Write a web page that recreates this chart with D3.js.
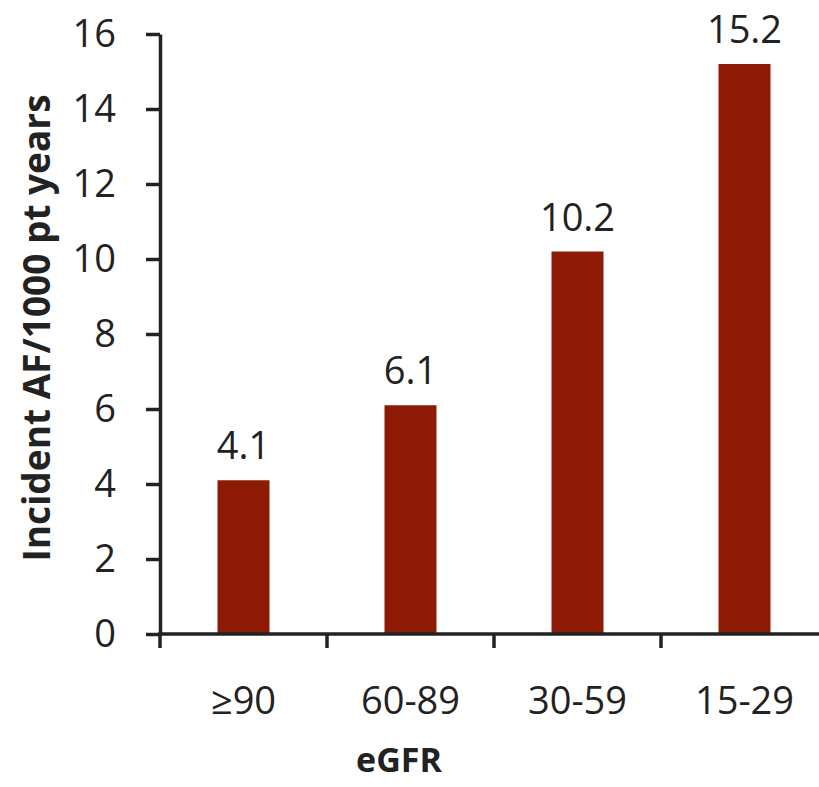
<!DOCTYPE html>
<html>
<head>
<meta charset="utf-8">
<script src="https://cdn.jsdelivr.net/npm/d3@7"></script>
<style>
  body { margin: 0; background: #fff; }
  text { font-family: "Open Sans", "Noto Sans", sans-serif; fill: #222; }
</style>
</head>
<body>
<div id="chart"></div>
<script>
// categories and values
const groups = ["≥90", "60-89", "30-59", "15-29"];
const rates = [4.1, 6.1, 10.2, 15.2];
const yTicks = [0, 2, 4, 6, 8, 10, 12, 14, 16];

const width = 819, height = 787;

const svg = d3.select("#chart")
  .append("svg")
  .attr("width", width)
  .attr("height", height);

const x = d3.scaleBand()
  .domain(groups)
  .range([160, 828])
  .paddingInner(0)
  .paddingOuter(0);

const y = d3.scaleLinear()
  .domain([0, 16])
  .range([634, 34]);

const barW = 52;

// bars
svg.selectAll("rect.bar")
  .data(groups)
  .enter()
  .append("rect")
    .attr("class", "bar")
    .attr("x", d => x(d) + x.bandwidth() / 2 - barW / 2)
    .attr("y", (d, i) => y(rates[i]))
    .attr("width", barW)
    .attr("height", (d, i) => y(0) - y(rates[i]))
    .attr("fill", "#8c1a04");

// value labels above bars
svg.selectAll("text.val")
  .data(groups)
  .enter()
  .append("text")
    .attr("class", "val")
    .attr("x", d => x(d) + x.bandwidth() / 2)
    .attr("y", (d, i) => y(rates[i]) - 21)
    .attr("text-anchor", "middle")
    .style("font-size", "38px")
    .text((d, i) => rates[i].toFixed(1));

// y axis
const yAxis = svg.append("g")
  .attr("transform", "translate(160,0)")
  .call(d3.axisLeft(y).tickValues(yTicks).tickSize(14).tickPadding(30).tickSizeOuter(0));
yAxis.select(".domain").attr("stroke", "#222").attr("stroke-width", 3.5);
yAxis.selectAll(".tick line").attr("stroke", "#222").attr("stroke-width", 3.5);
yAxis.selectAll(".tick text")
  .style("font-size", "38px")
  .attr("fill", "#222")
  .attr("font-family", null);

// x axis: ticks at category boundaries
const xAxis = svg.append("g")
  .attr("transform", `translate(0,${y(0)})`);
xAxis.append("line")
  .attr("x1", x.range()[0] - 1.75)
  .attr("x2", x.range()[1])
  .attr("stroke", "#222")
  .attr("stroke-width", 3.5);
xAxis.selectAll("line.tick")
  .data(groups)
  .enter()
  .append("line")
    .attr("class", "tick")
    .attr("x1", d => x(d))
    .attr("x2", d => x(d))
    .attr("y1", 0)
    .attr("y2", 14)
    .attr("stroke", "#222")
    .attr("stroke-width", 3.5);
xAxis.selectAll("text")
  .data(groups)
  .enter()
  .append("text")
    .attr("x", d => x(d) + x.bandwidth() / 2)
    .attr("y", 80)
    .attr("text-anchor", "middle")
    .style("font-size", "38px")
    .text(d => d);

// axis titles
svg.append("text")
  .attr("x", 399)
  .attr("y", 772)
  .attr("text-anchor", "middle")
  .style("font-size", "34px")
  .style("font-weight", "bold")
  .text("eGFR");

svg.append("text")
  .attr("transform", "translate(50,328) rotate(-90)")
  .attr("text-anchor", "middle")
  .style("font-size", "37px")
  .style("font-weight", "bold")
  .text("Incident AF/1000 pt years");
</script>
</body>
</html>
